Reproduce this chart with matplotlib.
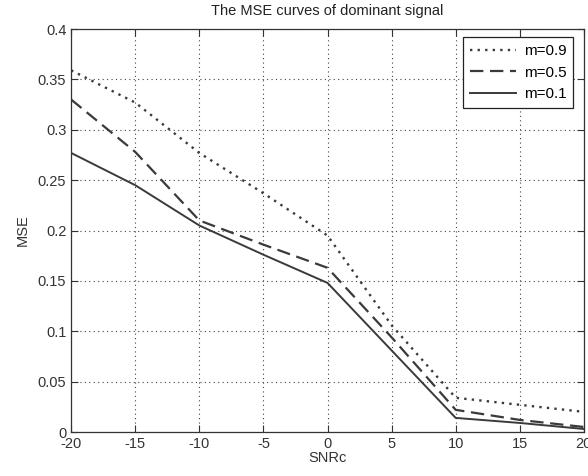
import matplotlib
matplotlib.use("Agg")
import matplotlib.pyplot as plt

# data
SNR = [-20, -15, -10, -5, 0, 5, 10, 15, 20]
MSE_M09 = [0.359, 0.327, 0.277, 0.237, 0.195, 0.106, 0.034, 0.027, 0.020]
MSE_M05 = [0.330, 0.278, 0.210, 0.186, 0.163, 0.094, 0.022, 0.012, 0.005]
MSE_M01 = [0.277, 0.245, 0.205, 0.176, 0.148, 0.081, 0.014, 0.009, 0.003]

plt.rcParams.update({
    "font.family": "Liberation Sans",
    "font.size": 10.5,
    "axes.unicode_minus": False,
})

fig = plt.figure(figsize=(5.88, 4.76), dpi=100)
ax = fig.add_axes([0.121, 0.0924, 0.872, 0.8466])

line_color = "#3a3a3a"
ax.plot(SNR, MSE_M09, linestyle=(0, (1, 2.2)), color=line_color, linewidth=1.7, label="m=0.9")
ax.plot(SNR, MSE_M05, linestyle=(0, (6, 3)), color=line_color, linewidth=1.6, label="m=0.5")
ax.plot(SNR, MSE_M01, linestyle="-", color=line_color, linewidth=1.4, label="m=0.1")

ax.set_xlim(-20, 20)
ax.set_ylim(0, 0.4)
ax.set_xticks(range(-20, 21, 5))
ax.set_yticks([0, 0.05, 0.1, 0.15, 0.2, 0.25, 0.3, 0.35, 0.4])
ax.set_yticklabels(["0", "0.05", "0.1", "0.15", "0.2", "0.25", "0.3", "0.35", "0.4"])

ax.grid(True, linestyle=(0, (1, 3)), color="#444444", linewidth=0.8)
ax.tick_params(direction="in", top=True, right=True, length=5, width=0.8,
               colors="#333333", labelcolor="#333333")
for s in ax.spines.values():
    s.set_color("#333333")
    s.set_linewidth(0.9)

ax.set_xlabel("SNRc", color="#333333", labelpad=0)
ax.set_ylabel("MSE", color="#333333", labelpad=6)
ax.set_title("The MSE curves of dominant signal", color="#222222", fontsize=10.5, pad=10)

leg = ax.legend(loc="upper right", fancybox=False, framealpha=1,
                edgecolor="#222222", handlelength=3.0, borderpad=0.45,
                labelspacing=0.5, handletextpad=0.5, fontsize=11,
                borderaxespad=0, bbox_to_anchor=(0.979, 0.980))
leg.get_frame().set_linewidth(0.9)

fig.savefig("out.png", dpi=100)
